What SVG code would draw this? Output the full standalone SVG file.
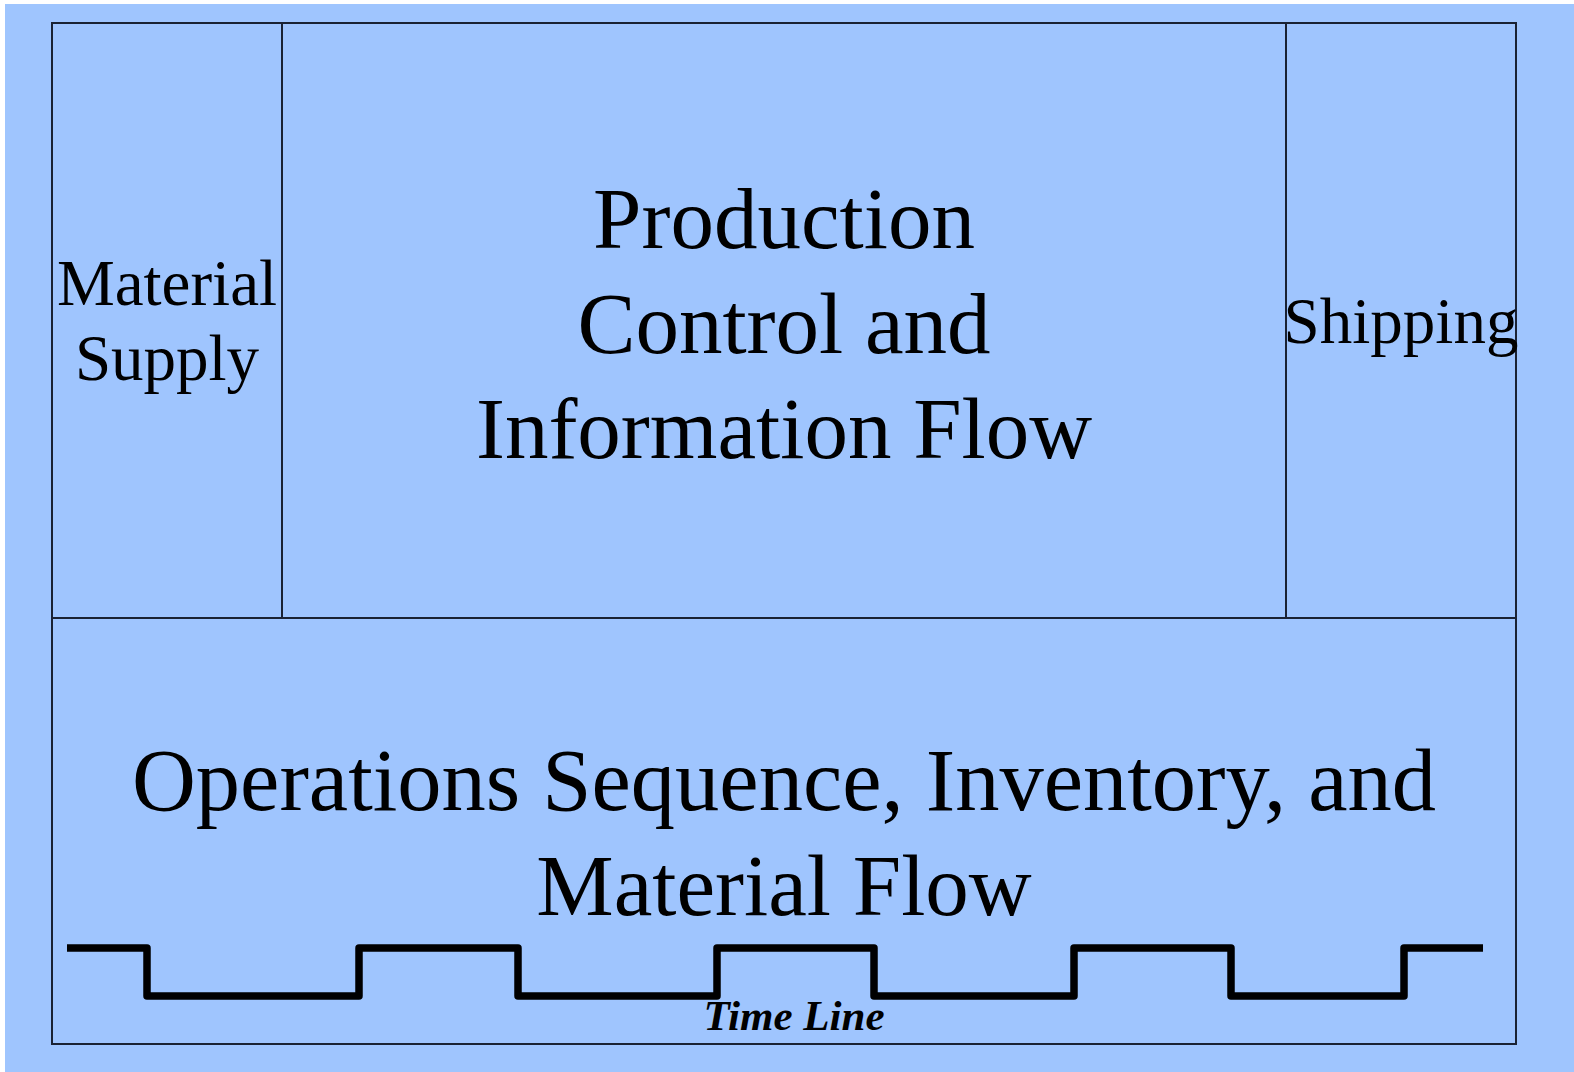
<svg xmlns="http://www.w3.org/2000/svg" width="1574" height="1072" viewBox="0 0 1574 1072">
<style>
.frame{fill:none;stroke:#1a2233;stroke-width:2}
.t{font-family:"Liberation Serif","Times New Roman",serif;fill:#000;text-anchor:middle}
.big{font-size:87px}
.ops{font-size:88.5px}
.mid{font-size:65px}
.tl{font-family:"Liberation Serif","Times New Roman",serif;font-size:43px;font-style:italic;font-weight:bold;text-anchor:middle;fill:#000}
.wave{fill:none;stroke:#000;stroke-width:7.5;stroke-linejoin:round}
</style>
<rect x="0" y="0" width="1574" height="1072" fill="#ffffff"/>
<rect x="5" y="4" width="1569" height="1068" fill="#9fc5fe"/>
<g id="material-supply">
<rect class="frame" x="52" y="23" width="230" height="595"/>
<text class="t mid" x="167" y="305">Material</text>
<text class="t mid" x="167" y="380">Supply</text>
</g>
<g id="production-control">
<rect class="frame" x="282" y="23" width="1004" height="595"/>
<text class="t big" x="784" y="248">Production</text>
<text class="t big" x="784" y="353">Control and</text>
<text class="t big" x="784" y="458">Information Flow</text>
</g>
<g id="shipping">
<rect class="frame" x="1286" y="23" width="230" height="595"/>
<text class="t mid" x="1401" y="343">Shipping</text>
</g>
<g id="operations">
<rect class="frame" x="52" y="618" width="1464" height="426"/>
<text class="t ops" x="784" y="810">Operations Sequence, Inventory, and</text>
<text class="t big" x="784" y="915">Material Flow</text>
</g>
<g id="connectors">
<path class="wave" d="M67 948 H147 V996 H359 V948 H518 V996 H717 V948 H874 V996 H1074 V948 H1231 V996 H1404 V948 H1483"/>
<text class="tl" x="794" y="1030">Time Line</text>
</g>
</svg>
